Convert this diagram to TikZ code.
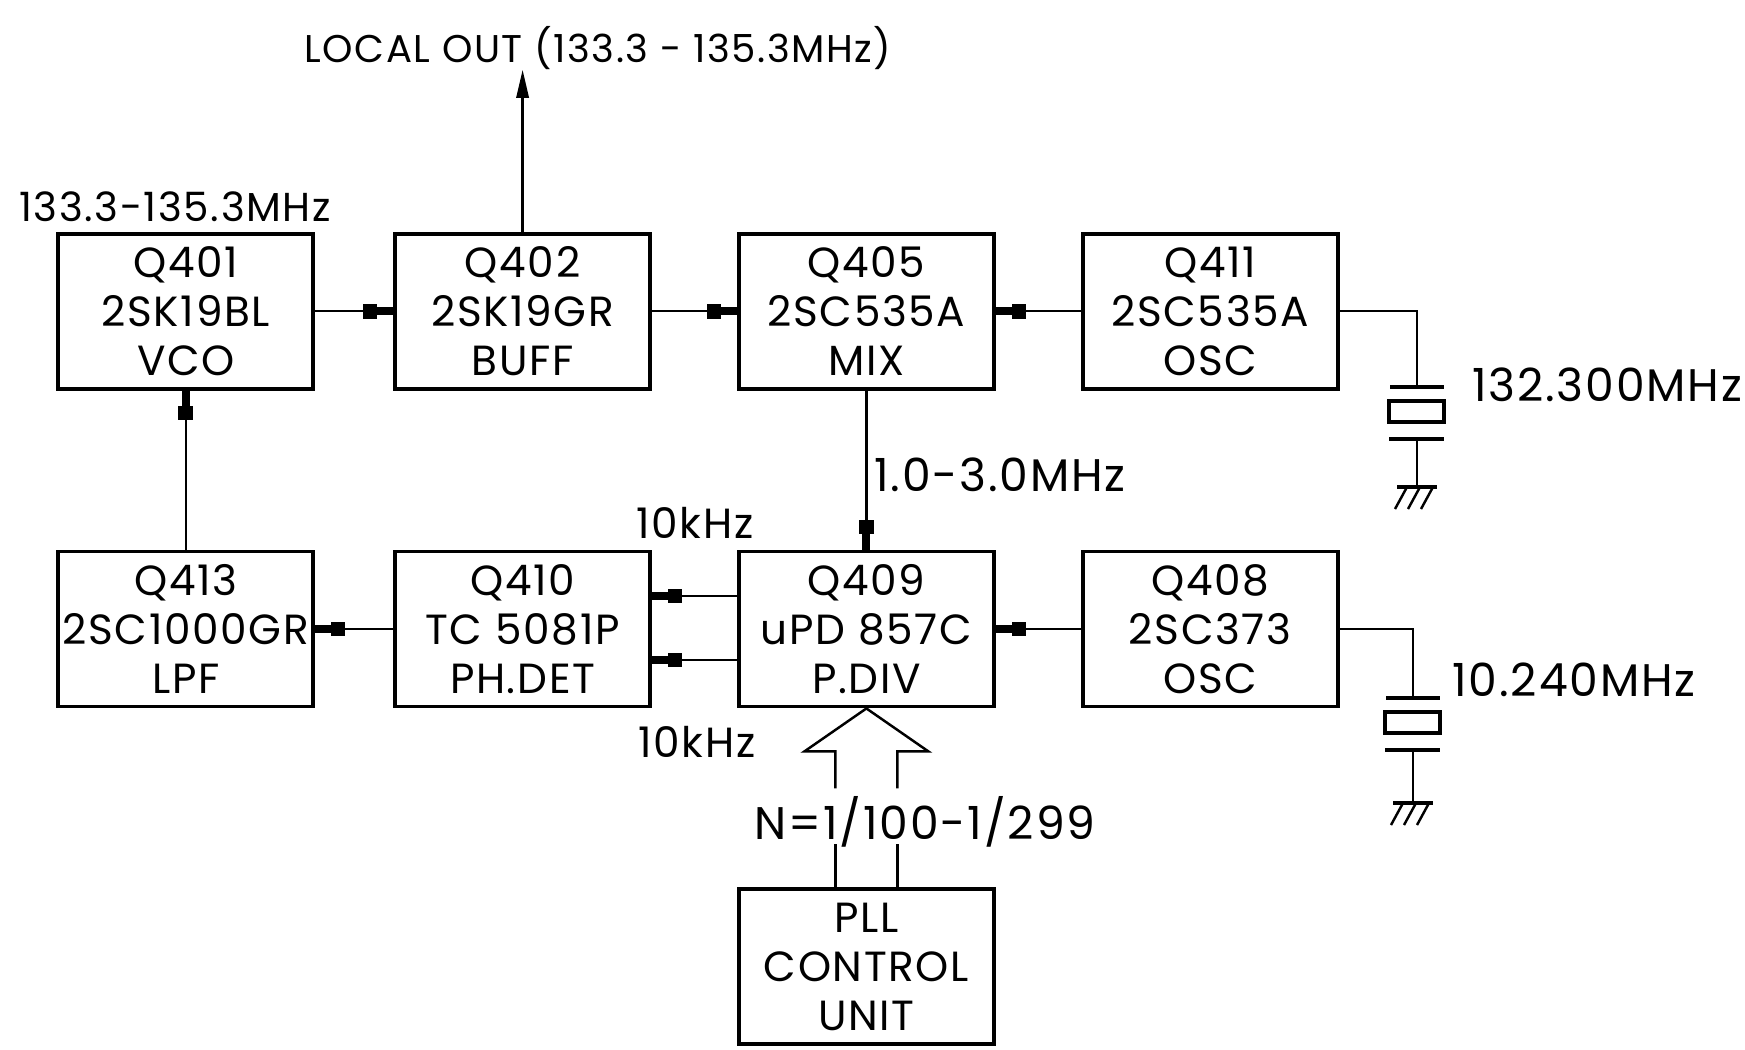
\documentclass[tikz,border=0pt]{standalone}
\usepackage{fontspec}
\setmainfont{Poppins}[LetterSpace=4]
\usetikzlibrary{positioning,calc,arrows.meta}
\tikzset{blk/.style={rectangle,draw=black,line width=2.2pt,minimum width=5.1cm,
minimum height=3.1cm,inner sep=0pt,align=center,font=\fontsize{24}{28}\selectfont},
lbl/.style={inner sep=0pt,font=\fontsize{25}{27}\selectfont},
wire/.style={line width=1.4pt},
plate/.style={line width=2.4pt},
sig/.style={wire,-{Rectangle[length=8pt,width=8.5pt] Rectangle[length=9pt,width=4.5pt]}},
outsig/.style={wire,-{Triangle[length=16pt,width=7pt]}},
bus/.style={wire,line join=miter}}

\begin{document}
\begin{tikzpicture}[x=0.02cm,y=-0.02cm]
  \useasboundingbox (0,0) rectangle (1745,1049);
  \node (blocks) [matrix, column sep=1.56cm, row sep=3.18cm, inner sep=0pt,
    ampersand replacement=\&] at (698,639) {
    \node (vco) [blk] {Q401\\2SK19BL\\VCO}; \&
    \node (buff) [blk] {Q402\\2SK19GR\\BUFF}; \&[0.14cm]
    \node (mix) [blk] {Q405\\2SC535A\\MIX}; \&[0.14cm]
    \node (osc1) [blk] {Q411\\2SC535A\\OSC}; \\
    \node (lpf) [blk] {Q413\\2SC1000GR\\LPF}; \&
    \node (phdet) [blk] {Q410\\TC 5081P\\PH.DET}; \&
    \node (pdiv) [blk] {Q409\\uPD 857C\\P.DIV}; \&
    \node (osc2) [blk] {Q408\\2SC373\\OSC}; \\[0.4cm]
    \& \& \node (pll) [blk] {PLL\\CONTROL\\UNIT}; \& \\
  };

  % signal path
  \draw [sig] (vco) -- (buff);
  \draw [sig] (buff) -- (mix);
  \draw [sig] (osc1) -- (mix);
  \draw [sig] (mix) -- (pdiv);
  \draw [sig] ([yshift=0.66cm]pdiv.west) -- ([yshift=0.66cm]phdet.east);
  \draw [sig] ([yshift=-0.62cm]pdiv.west) -- ([yshift=-0.62cm]phdet.east);
  \draw [sig] (phdet) -- (lpf);
  \draw [sig] (lpf) -- (vco);
  \draw [sig] (osc2) -- (pdiv);

  \coordinate (loutend) at ($(buff.north)+(0,-162)$);
  \draw [outsig] (buff.north) -- (loutend);

  % crystals
  \coordinate (xtal1) at (1417,387);
  \coordinate (xtal2) at (1413,698);
  \draw [wire] (osc1.east) -| (xtal1);
  \draw [wire] (osc2.east) -| (xtal2);
  \foreach \n/\g in {1/100,2/105} {
    \draw [plate] ($(xtal\n)+(-27,0)$) -- ($(xtal\n)+(27,0)$);
    \draw [plate] ($(xtal\n)+(-28,14)$) rectangle ($(xtal\n)+(27,35)$);
    \draw [plate] ($(xtal\n)+(-28,52)$) -- ($(xtal\n)+(27,52)$);
    \draw [wire] ($(xtal\n)+(0,52)$) -- ($(xtal\n)+(0,\g)$) coordinate (gnd\n);
    \draw [plate] ($(gnd\n)+(-20,0)$) -- ($(gnd\n)+(20,0)$);
    \foreach \dx in {-10,3,16}
      \draw [wire] ($(gnd\n)+(\dx,0)$) -- ++(-12,22);
  }

  % division ratio bus
  \coordinate (bustip) at (pdiv.south);
  \draw [bus] ($(bustip)+(-31,80)$) -- ($(bustip)+(-31,43)$) -- ($(bustip)+(-62,43)$)
    -- (bustip) -- ($(bustip)+(62,43)$) -- ($(bustip)+(31,43)$) -- ($(bustip)+(31,80)$);
  \draw [wire] ($(pll.north)+(-31,0)$) -- ++(0,-43);
  \draw [wire] ($(pll.north)+(31,0)$) -- ++(0,-43);

  % labels
  \node (cap_lout) [lbl, font=\fontsize{22}{24}\selectfont] at (598,48) {LOCAL OUT (133.3 - 135.3MHz)};
  \node (cap_vco) [lbl, font=\fontsize{23}{25}\selectfont] at (175,207) {133.3-135.3MHz};
  \node (cap_mix) [lbl, font=\fontsize{26}{28}\selectfont] at (1000,475) {1.0-3.0MHz};
  \node (cap_ref1) [lbl, font=\fontsize{24}{26}\selectfont] at (695,523) {10kHz};
  \node (cap_ref2) [lbl, font=\fontsize{24}{26}\selectfont] at (697,742) {10kHz};
  \node (cap_n) [lbl, font=\fontsize{26}{28}\selectfont] at (925,822) {N=1/100-1/299};
  \node (cap_x1) [lbl, font=\fontsize{26}{28}\selectfont] at (1607,385) {132.300MHz};
  \node (cap_x2) [lbl, font=\fontsize{26}{28}\selectfont] at (1574,680) {10.240MHz};
\end{tikzpicture}
\end{document}
